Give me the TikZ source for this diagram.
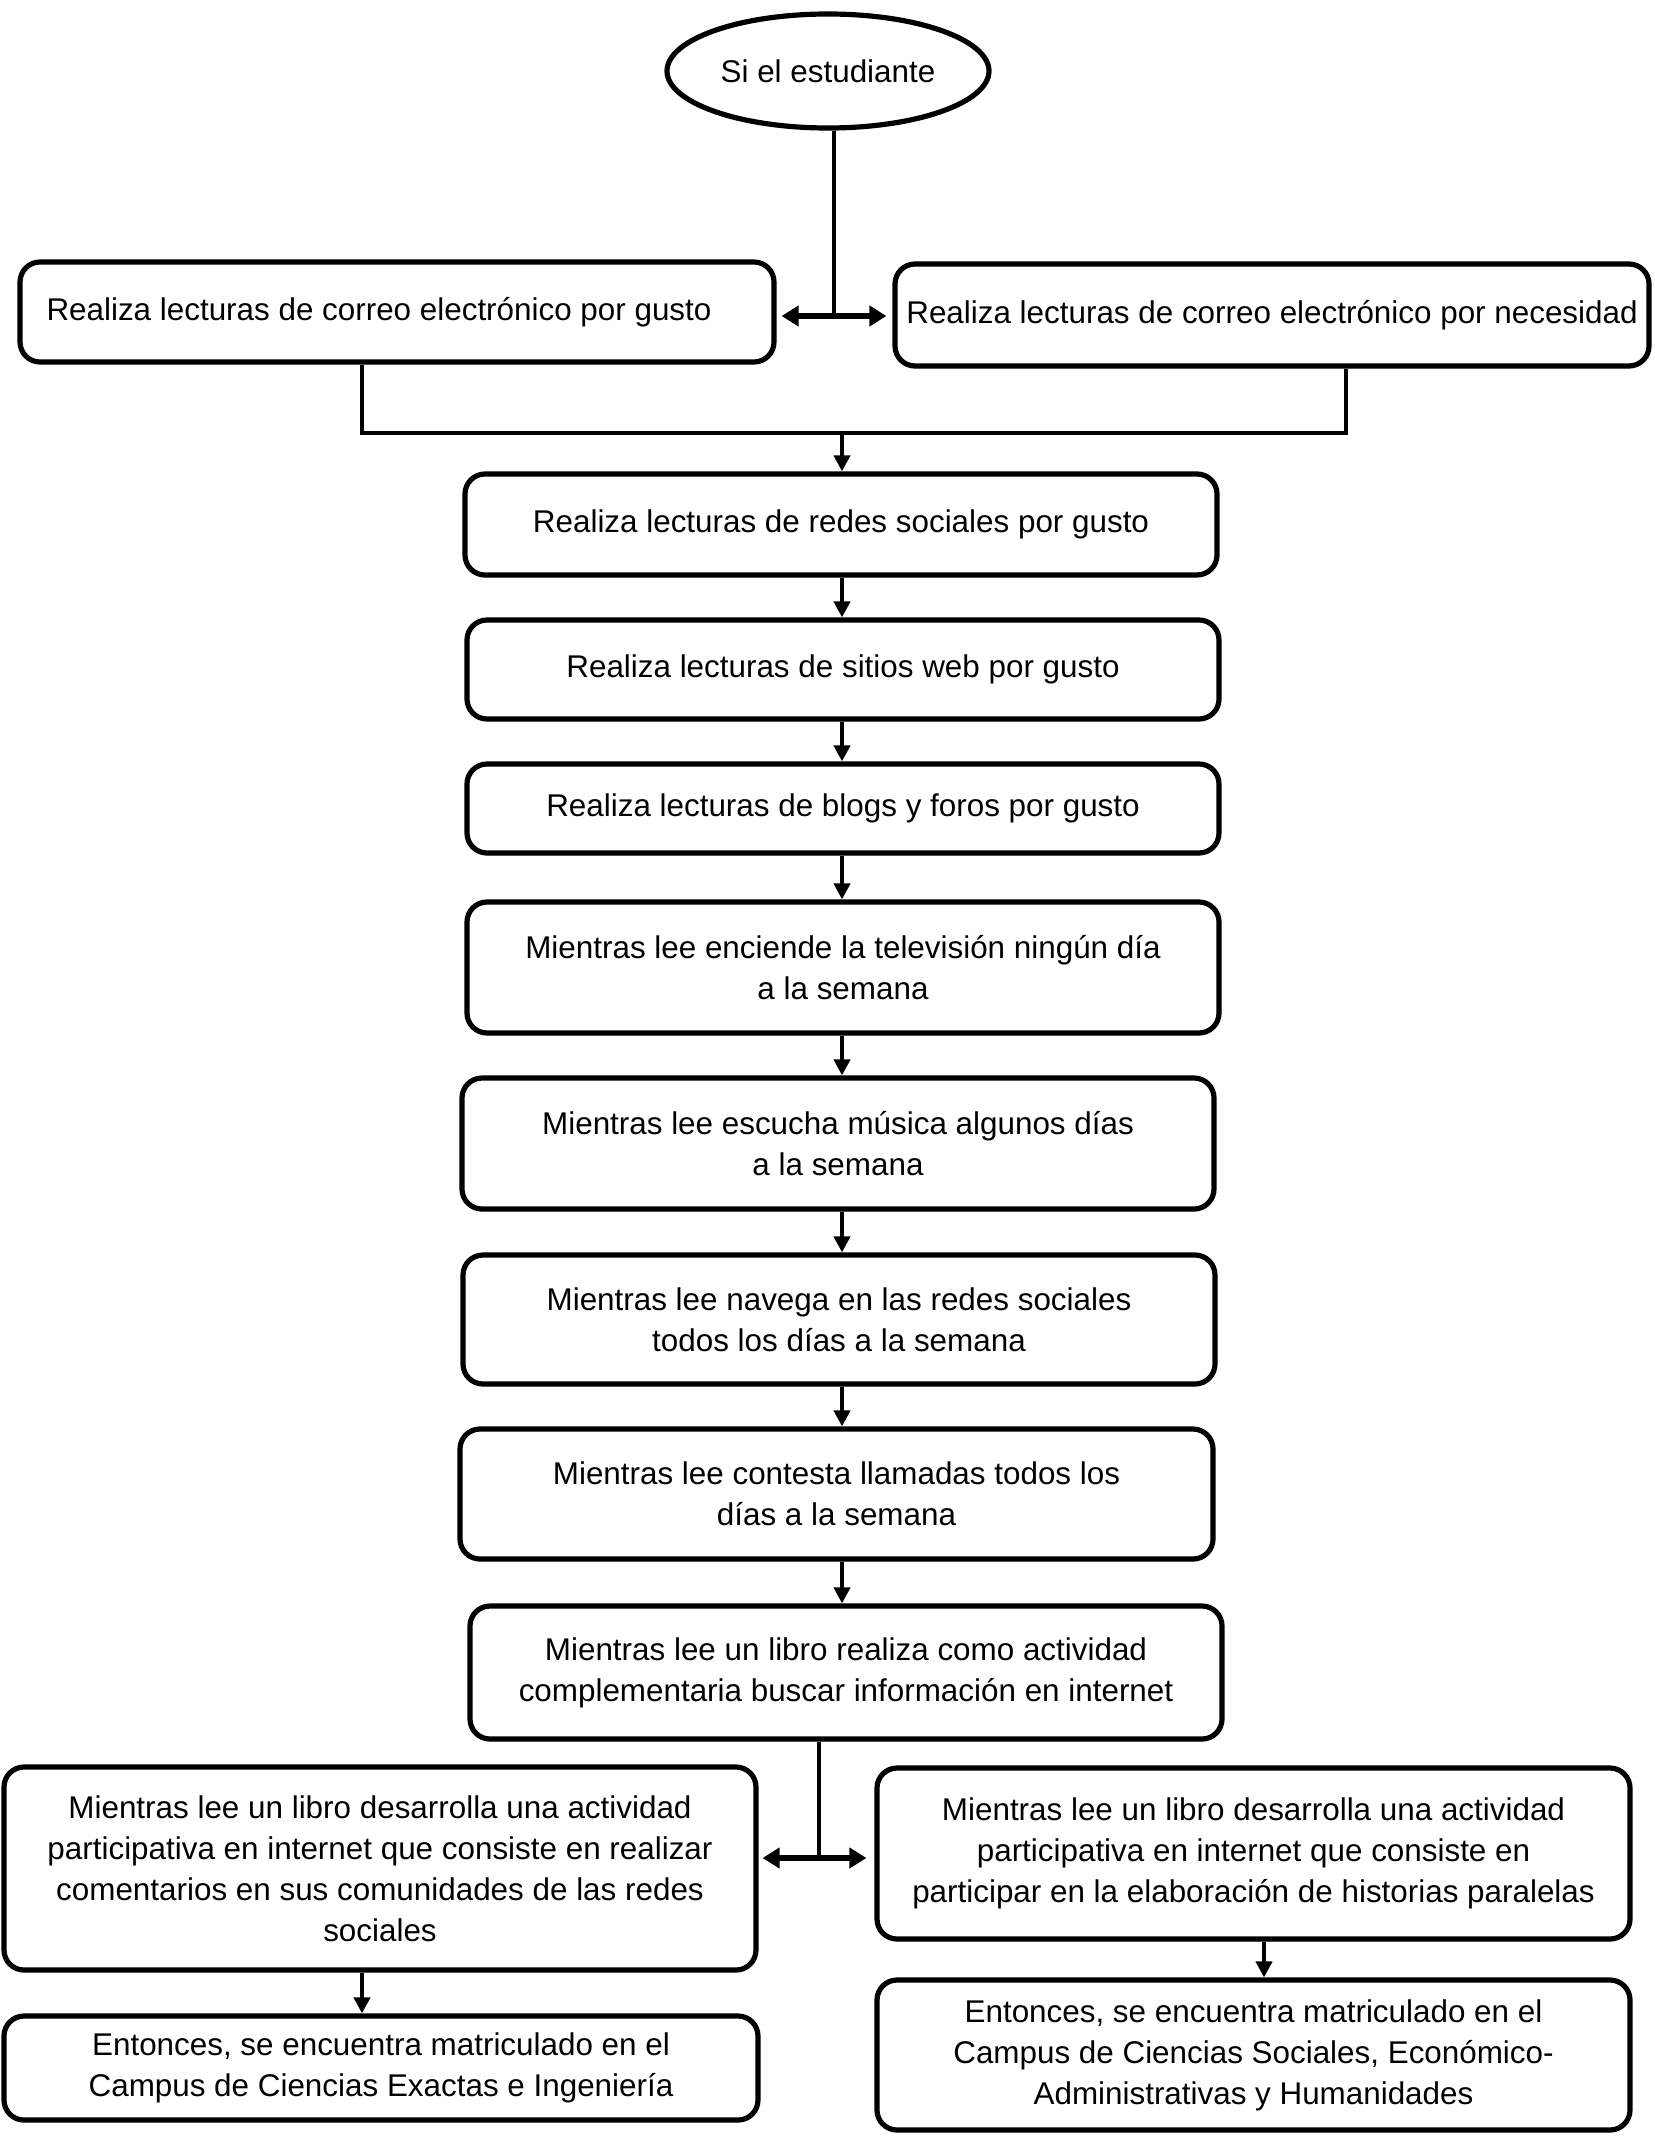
\documentclass[tikz,border=0pt]{standalone}
\usepackage{fontspec}
\setmainfont{Liberation Sans}
\usetikzlibrary{shapes.geometric,arrows.meta,shadows}
\begin{document}
\begin{tikzpicture}[x=0.5pt,y=-0.5pt,
  txt/.style={font=\fontsize{15.7}{20.5}\selectfont},
  box/.style={txt, draw, line width=2.6pt, rounded corners=10pt, align=center, inner sep=0pt, fill=white,
    drop shadow={shadow xshift=0pt, shadow yshift=-1.2pt, opacity=0.45}},
  start/.style={txt, draw, ellipse, line width=2.6pt, inner sep=0pt, fill=white},
  conn/.style={line width=2pt},
  arr/.style={line width=2pt, -{Triangle[length=8pt,width=8pt]}},
  dbl/.style={line width=2.8pt, {Triangle[length=8.5pt,width=10pt]}-{Triangle[length=8.5pt,width=10pt]}}
]
\useasboundingbox (0,0) rectangle (1654,2140);

\node[start, minimum width=161pt, minimum height=57pt] (e) at (828,71) {Si el estudiante};

\node[box, minimum width=377pt, minimum height=50pt] (a1) at (397,312) {\hspace*{-18pt}Realiza lecturas de correo electrónico por gusto};
\node[box, minimum width=377pt, minimum height=51pt] (a2) at (1272,315) {Realiza lecturas de correo electrónico por necesidad};

\node[box, minimum width=376pt, minimum height=50.5pt] (b) at (841,524.5) {Realiza lecturas de redes sociales por gusto};
\node[box, minimum width=376pt, minimum height=49.5pt] (c) at (843,669.5) {Realiza lecturas de sitios web por gusto};
\node[box, minimum width=376pt, minimum height=44.5pt] (d) at (843,808.5) {Realiza lecturas de blogs y foros por gusto};
\node[box, minimum width=376pt, minimum height=65.5pt] (f1) at (843,967.5) {Mientras lee enciende la televisión ningún día\\a la semana};
\node[box, minimum width=376pt, minimum height=65.5pt] (f2) at (838,1143.5) {Mientras lee escucha música algunos días\\a la semana};
\node[box, minimum width=376pt, minimum height=64.5pt] (f3) at (839,1319.5) {Mientras lee navega en las redes sociales\\todos los días a la semana};
\node[box, minimum width=376.5pt, minimum height=65pt] (f4) at (836.5,1494) {Mientras lee contesta llamadas todos los\\días a la semana};
\node[box, minimum width=376pt, minimum height=66.5pt] (f5) at (846,1672.5) {Mientras lee un libro realiza como actividad\\complementaria buscar información en internet};

\node[box, minimum width=376pt, minimum height=101.5pt] (j) at (380,1868.5) {Mientras lee un libro desarrolla una actividad\\participativa en internet que consiste en realizar\\comentarios en sus comunidades de las redes\\sociales};
\node[box, minimum width=376.5pt, minimum height=85.5pt] (k) at (1253.5,1853.5) {Mientras lee un libro desarrolla una actividad\\participativa en internet que consiste en\\participar en la elaboración de historias paralelas};
\node[box, minimum width=377pt, minimum height=52pt] (l) at (381,2068) {Entonces, se encuentra matriculado en el\\Campus de Ciencias Exactas e Ingeniería};
\node[box, minimum width=376.5pt, minimum height=75pt] (m) at (1253.5,2055) {Entonces, se encuentra matriculado en el\\Campus de Ciencias Sociales, Económico-\\Administrativas y Humanidades};

% top split
\coordinate (t1) at (834,316);
\draw[conn] (t1 |- e.south) -- (t1);
\draw[dbl] ([xshift=2.5pt]a1.east |- t1) -- ([xshift=-3pt]a2.west |- t1);

% merge
\coordinate (m1) at (362,433);
\coordinate (m2) at (1346,433);
\draw[conn] (m1 |- a1.south) -- (m1) -- (m2) -- (m2 |- a2.south);
\coordinate (ax) at (842,433);
\draw[arr] (ax) -- (ax |- b.north);

% chain
\draw[arr] (b.south -| ax) -- (c.north -| ax);
\draw[arr] (c.south -| ax) -- (d.north -| ax);
\draw[arr] (d.south -| ax) -- (f1.north -| ax);
\draw[arr] (f1.south -| ax) -- (f2.north -| ax);
\draw[arr] (f2.south -| ax) -- (f3.north -| ax);
\draw[arr] (f3.south -| ax) -- (f4.north -| ax);
\draw[arr] (f4.south -| ax) -- (f5.north -| ax);

% bottom split
\coordinate (t2) at (819,1858);
\draw[conn] (t2 |- f5.south) -- (t2);
\draw[dbl] ([xshift=2pt]j.east |- t2) -- ([xshift=-4pt]k.west |- t2);

\coordinate (cl) at (362,1970);
\coordinate (cr) at (1264,1939);
\draw[arr] (cl |- j.south) -- (cl |- l.north);
\draw[arr] (cr |- k.south) -- (cr |- m.north);
\end{tikzpicture}
\end{document}
